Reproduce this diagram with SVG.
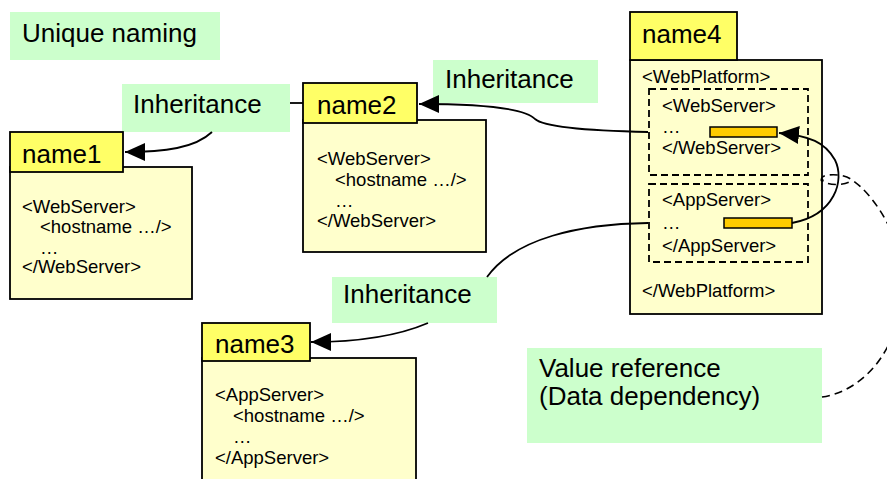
<svg xmlns="http://www.w3.org/2000/svg" width="887" height="479" viewBox="0 0 887 479">
  <style>
    .label { fill: #CCFFCC; stroke: none; }
    .tab { fill: #FFFF66; stroke: #000; stroke-width: 1.8; }
    .body { fill: #FFFFCC; stroke: #000; stroke-width: 1.8; }
    .scope { fill: none; stroke: #000; stroke-width: 1.8; stroke-dasharray: 7 4; }
    .slot { fill: #FFCC00; stroke: #000; stroke-width: 1.5; }
    .big { font-family: "Liberation Sans", Arial, sans-serif; font-size: 26px; fill: #000; }
    .code { font-family: "Liberation Sans", Arial, sans-serif; font-size: 18.5px; fill: #000; }
    .link { fill: none; stroke: #000; stroke-width: 1.8; }
    .ref { fill: none; stroke: #000; stroke-width: 1.6; stroke-dasharray: 8 5; }
  </style>
  <defs>
    <marker id="arrow" viewBox="0 0 20 18" refX="20" refY="9" markerWidth="20" markerHeight="18" markerUnits="userSpaceOnUse" orient="auto">
      <path d="M0,0 L20,9 L0,18 z" fill="#000"/>
    </marker>
  </defs>

  <!-- caption -->
  <g id="unique-naming">
    <rect class="label" x="10" y="12" width="210" height="48"/>
    <text class="big" x="22" y="42">Unique naming</text>
  </g>

  <!-- relation labels -->
  <g id="label-inherit-1">
    <rect class="label" x="122" y="84" width="168" height="48"/>
    <text class="big" x="133" y="113">Inheritance</text>
  </g>
  <g id="label-inherit-2">
    <rect class="label" x="433" y="60" width="165" height="43"/>
    <text class="big" x="445" y="88">Inheritance</text>
  </g>
  <g id="label-inherit-3">
    <rect class="label" x="332" y="277" width="165" height="46"/>
    <text class="big" x="343" y="303">Inheritance</text>
  </g>
  <g id="label-value-ref">
    <rect class="label" x="527" y="348" width="295" height="95"/>
    <text class="big" x="539" y="377">Value reference</text>
    <text class="big" x="539" y="405">(Data dependency)</text>
  </g>

  <!-- name1 -->
  <g id="name1">
    <rect class="body" x="10" y="167" width="182" height="132"/>
    <rect class="tab" x="10" y="132" width="113" height="40"/>
    <text class="big" x="22" y="163">name1</text>
    <text class="code" x="22" y="213">&lt;WebServer&gt;</text>
    <text class="code" x="40" y="233">&lt;hostname …/&gt;</text>
    <text class="code" x="40" y="254">…</text>
    <text class="code" x="22" y="273">&lt;/WebServer&gt;</text>
  </g>

  <!-- name2 -->
  <g id="name2">
    <rect class="body" x="303" y="120" width="183" height="132"/>
    <rect class="tab" x="303" y="83" width="114" height="40"/>
    <text class="big" x="317" y="114">name2</text>
    <text class="code" x="317" y="165">&lt;WebServer&gt;</text>
    <text class="code" x="335" y="186">&lt;hostname …/&gt;</text>
    <text class="code" x="335" y="207">…</text>
    <text class="code" x="317" y="227">&lt;/WebServer&gt;</text>
  </g>

  <!-- name3 -->
  <g id="name3">
    <rect class="body" x="202" y="358" width="214" height="130"/>
    <rect class="tab" x="202" y="323" width="108" height="38"/>
    <text class="big" x="215" y="353">name3</text>
    <text class="code" x="215" y="401">&lt;AppServer&gt;</text>
    <text class="code" x="233" y="422">&lt;hostname …/&gt;</text>
    <text class="code" x="233" y="443">…</text>
    <text class="code" x="215" y="464">&lt;/AppServer&gt;</text>
  </g>

  <!-- name4 -->
  <g id="name4">
    <rect class="body" x="630" y="60" width="192" height="254"/>
    <rect class="tab" x="630" y="12" width="107" height="48"/>
    <text class="big" x="642" y="43">name4</text>
    <text class="code" x="642" y="83">&lt;WebPlatform&gt;</text>
    <rect class="scope" x="649" y="89" width="159" height="86"/>
    <text class="code" x="662" y="112">&lt;WebServer&gt;</text>
    <text class="code" x="662" y="133">…</text>
    <text class="code" x="662" y="154">&lt;/WebServer&gt;</text>
    <rect class="slot" x="710" y="127" width="67" height="10"/>
    <rect class="scope" x="649" y="184" width="159" height="78"/>
    <text class="code" x="662" y="206">&lt;AppServer&gt;</text>
    <text class="code" x="662" y="229">…</text>
    <text class="code" x="662" y="252">&lt;/AppServer&gt;</text>
    <rect class="slot" x="724" y="218" width="68" height="10"/>
    <text class="code" x="642" y="297">&lt;/WebPlatform&gt;</text>
  </g>

  <!-- connectors -->
  <g id="connectors">
    <!-- name2 inherits name1 (runs behind the label) -->
    <path class="link" d="M303,103 L290,103"/>
    <path class="link" d="M212,132 C195,148 165,152 125,152" marker-end="url(#arrow)"/>
    <!-- WebServer in name4 inherits name2 -->
    <path class="link" d="M648,132 C600,131 545,128 535,119 C525,108 480,104 419,104" marker-end="url(#arrow)"/>
    <!-- AppServer in name4 inherits name3 (runs behind the label) -->
    <path class="link" d="M648,223 C580,224 515,238 487,277"/>
    <path class="link" d="M428,323 C400,335 360,342 311,342" marker-end="url(#arrow)"/>
    <!-- value reference between the slots -->
    <path class="link" d="M792,223 C835,215 845,180 835,160 C825,142 810,136 779,133" marker-end="url(#arrow)"/>
    <!-- dependency note -->
    <path class="ref" d="M822,397 C868,390 898,345 903,295 C908,245 875,195 852,180 C842,172 818,174 822,180 C826,186 846,186 852,180"/>
    <circle cx="822" cy="180" r="1.6" fill="#000"/>
  </g>
</svg>
